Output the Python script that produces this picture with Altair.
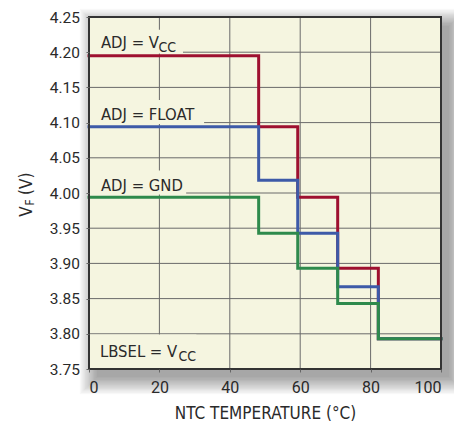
import altair as alt
import pandas as pd

# ---- chart values ----
step_x = [0, 48.2, 59.3, 70.65, 82.2, 100]
vf_vcc = [4.195, 4.094, 3.994, 3.893, 3.793, 3.793]
vf_float = [4.094, 4.018, 3.943, 3.867, 3.793, 3.793]
vf_gnd = [3.994, 3.943, 3.893, 3.843, 3.793, 3.793]
series_names = ["ADJ = VCC", "ADJ = FLOAT", "ADJ = GND"]
series_colors = ["#9e1030", "#3d5aa8", "#2e8a4c"]

x_ticks = [0, 20, 40, 60, 80, 100]
y_ticks = [3.75, 3.80, 3.85, 3.90, 3.95, 4.00, 4.05, 4.10, 4.15, 4.20, 4.25]
grid_x = [20, 40, 60, 80]
grid_y = [3.80, 3.85, 3.90, 3.95, 4.00, 4.05, 4.10, 4.15, 4.20]

label_main = ["ADJ = V", "ADJ = FLOAT", "ADJ = GND", "LBSEL = V"]
label_x = [3.4, 3.4, 3.4, 3.1]
label_y = [4.2055, 4.1037, 4.0033, 3.7666]
label_sub = ["CC", "", "", "CC"]
box_x2 = [26.7, 32.7, 27.6, 30.5]
box_y = [4.198, 4.098, 3.998, 3.75]
box_y2 = [4.232, 4.132, 4.032, 3.799]

W, H = 352, 352
BG = "#f5f5e0"
FONT_N = "Liberation Sans Narrow, DejaVu Sans Condensed, Roboto Condensed, Roboto"
FONT_R = "Roboto"
TXT = "#2a2a2a"

xs = alt.Scale(domain=[0, 100], nice=False, zero=False)
ys = alt.Scale(domain=[3.75, 4.25], nice=False, zero=False)

x_axis = alt.Axis(values=x_ticks, grid=False, domain=False, ticks=True, tickSize=3,
                  tickColor="#666", labelFont=FONT_R, labelFontSize=16, labelColor=TXT,
                  labelPadding=7, title="NTC TEMPERATURE (°C)", titleFont=FONT_N,
                  titleFontSize=17, titleFontWeight="normal", titleColor=TXT,
                  titleX=176, titleY=49, titleBaseline="alphabetic", titleAlign="center",
                  zindex=1)
y_axis = alt.Axis(values=y_ticks, grid=False, domain=False, ticks=True, tickSize=3,
                  tickColor="#666", labelFont=FONT_R, labelFontSize=15.5, labelColor=TXT,
                  labelPadding=6.5, format=".2f", title="", zindex=1)

one = alt.Data(values=[{"k": 0}])

layers = []
# soft drop shadow
n_sh = 14
for k in range(1, n_sh + 1):
    d = 1.3 * k
    layers.append(
        alt.Chart(one).mark_rect(color="black", opacity=0.028).encode(
            x=alt.value(9 - d), x2=alt.value(W + 7 + d),
            y=alt.value(10 - d), y2=alt.value(H + 7 + d),
        )
    )
# plot background
layers.append(
    alt.Chart(one).mark_rect(color=BG).encode(
        x=alt.value(0), x2=alt.value(W), y=alt.value(0), y2=alt.value(H)
    )
)
# grid lines
gx = pd.DataFrame({"x": grid_x})
gy = pd.DataFrame({"v": grid_y})
layers.append(
    alt.Chart(gx).mark_rule(color="#6a6a6a", strokeWidth=1).encode(
        x=alt.X("x:Q", scale=xs, axis=x_axis)
    )
)
layers.append(
    alt.Chart(gy).mark_rule(color="#6a6a6a", strokeWidth=1).encode(
        y=alt.Y("v:Q", scale=ys, axis=y_axis)
    )
)
# label backgrounds
boxes = pd.DataFrame({"x": [0] * 4, "x2": box_x2, "v": box_y, "v2": box_y2})
layers.append(
    alt.Chart(boxes).mark_rect(color=BG).encode(
        x=alt.X("x:Q", scale=xs, axis=x_axis), x2="x2:Q",
        y=alt.Y("v:Q", scale=ys, axis=y_axis), y2="v2:Q",
    )
)
# step lines
for name, vals, col in zip(series_names, [vf_vcc, vf_float, vf_gnd], series_colors):
    df = pd.DataFrame({"x": step_x, "v": vals, "s": name})
    layers.append(
        alt.Chart(df).mark_line(interpolate="step-after", color=col, strokeWidth=3,
                                strokeJoin="miter", strokeCap="square").encode(
            x=alt.X("x:Q", scale=xs, axis=x_axis),
            y=alt.Y("v:Q", scale=ys, axis=y_axis),
        )
    )
# text labels
lab = pd.DataFrame({"x": label_x, "v": label_y, "t": label_main, "s": label_sub})
layers.append(
    alt.Chart(lab).mark_text(font=FONT_N, fontSize=16.5, color=TXT, align="left",
                             baseline="alphabetic").encode(
        x=alt.X("x:Q", scale=xs, axis=x_axis), y=alt.Y("v:Q", scale=ys, axis=y_axis), text="t:N"
    )
)
layers.append(
    alt.Chart(lab.iloc[[0]]).mark_text(font=FONT_N, fontSize=14, color=TXT, align="left",
                                       baseline="alphabetic", dx=57.5, dy=3.5).encode(
        x=alt.X("x:Q", scale=xs, axis=x_axis), y=alt.Y("v:Q", scale=ys, axis=y_axis), text="s:N"
    )
)
layers.append(
    alt.Chart(lab.iloc[[3]]).mark_text(font=FONT_N, fontSize=14, color=TXT, align="left",
                                       baseline="alphabetic", dx=78.5, dy=3.5).encode(
        x=alt.X("x:Q", scale=xs, axis=x_axis), y=alt.Y("v:Q", scale=ys, axis=y_axis), text="s:N"
    )
)
# y axis title V_F (V)
ytitle = pd.DataFrame({"a": ["V"], "b": ["F"], "c": ["(V)"]})
layers.append(
    alt.Chart(ytitle).mark_text(font=FONT_N, fontSize=17, color=TXT, align="left",
                                baseline="alphabetic", angle=270).encode(
        x=alt.value(-57.3), y=alt.value(199.7), text="a:N")
)
layers.append(
    alt.Chart(ytitle).mark_text(font=FONT_N, fontSize=12, color=TXT, align="left",
                                baseline="alphabetic", angle=270).encode(
        x=alt.value(-55.5), y=alt.value(188.5), text="b:N")
)
layers.append(
    alt.Chart(ytitle).mark_text(font=FONT_N, fontSize=17, color=TXT, align="left",
                                baseline="alphabetic", angle=270).encode(
        x=alt.value(-57.3), y=alt.value(178), text="c:N")
)
# plot border
layers.append(
    alt.Chart(one).mark_rect(fillOpacity=0, stroke="#333333", strokeWidth=2).encode(
        x=alt.value(0), x2=alt.value(W), y=alt.value(0), y2=alt.value(H)
    )
)

chart = alt.layer(*layers).properties(
    width=W, height=H,
    autosize=alt.AutoSizeParams(type="none"),
    padding={"left": 81, "top": 9, "right": 13, "bottom": 54},
    background="white",
).configure_view(strokeWidth=0)

chart.save("out.html", embed_options={"renderer": "svg", "actions": False})
